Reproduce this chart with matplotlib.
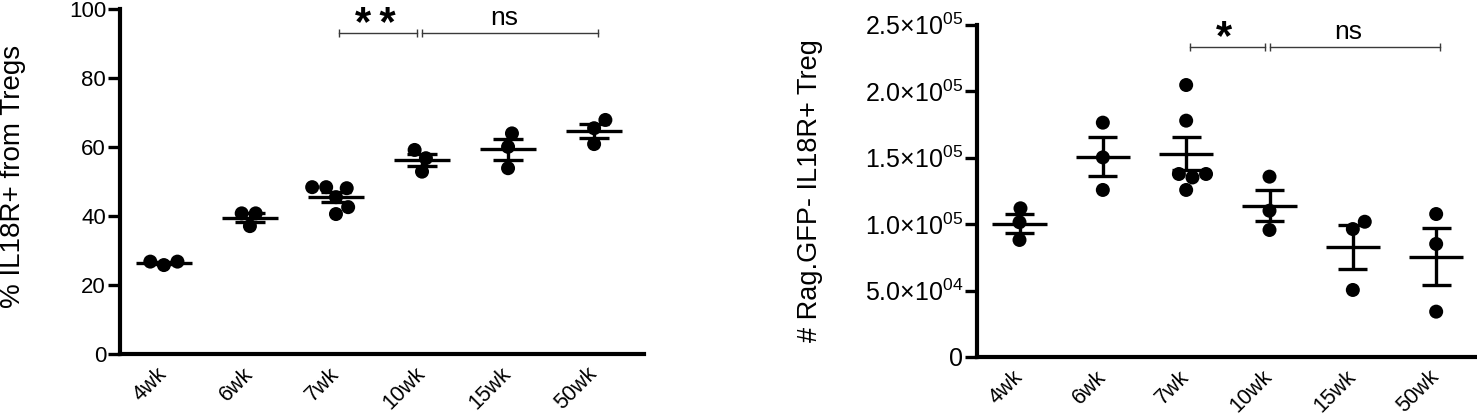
import numpy as np
import matplotlib
matplotlib.use('Agg')
import matplotlib.pyplot as plt

plt.rcParams['font.family'] = ['Liberation Sans', 'DejaVu Sans']
plt.rcParams['mathtext.fontset'] = 'custom'
plt.rcParams['mathtext.rm'] = 'Liberation Sans'

# ---------------- data ----------------
categories = ['4wk', '6wk', '7wk', '10wk', '15wk', '50wk']

# % IL18R+ from Tregs
pct_4wk = [26.8, 25.8, 26.8]
pct_6wk = [40.8, 37.1, 40.8]
pct_7wk = [48.4, 45.5, 48.1, 40.6, 48.4, 42.6]
pct_10wk = [59.2, 56.8, 52.9]
pct_15wk = [64.0, 60.1, 53.9]
pct_50wk = [67.9, 65.5, 60.9]

# # Rag.GFP- IL18R+ Treg (cells)
cnt_4wk = [111800, 101300, 88000]
cnt_6wk = [176200, 150100, 125600]
cnt_7wk = [204500, 177700, 137600, 137600, 135000, 125600]
cnt_10wk = [135600, 110000, 95500]
cnt_15wk = [101700, 96200, 50400]
cnt_50wk = [107500, 85000, 34100]

left_ticks = [0, 20, 40, 60, 80, 100]
right_ticks = [0, 50000, 100000, 150000, 200000, 250000]
right_tick_labels = ['0',
                     '5.0×10$^{\\mathregular{04}}$',
                     '1.0×10$^{\\mathregular{05}}$',
                     '1.5×10$^{\\mathregular{05}}$',
                     '2.0×10$^{\\mathregular{05}}$',
                     '2.5×10$^{\\mathregular{05}}$']

left_groups = [pct_4wk, pct_6wk, pct_7wk, pct_10wk, pct_15wk, pct_50wk]
right_groups = [cnt_4wk, cnt_6wk, cnt_7wk, cnt_10wk, cnt_15wk, cnt_50wk]

left_ylabel = '% IL18R+ from Tregs'
right_ylabel = '# Rag.GFP- IL18R+ Treg'

# significance annotations: (start category, end category, text)
left_sig = [(2, 3, '*\u2009*'), (3, 5, 'ns')]
right_sig = [(2, 3, '*'), (3, 5, 'ns')]

# ---------------- figure ----------------
W, H = 1477, 420
fig = plt.figure(figsize=(W / 100, H / 100), dpi=100)
axL = fig.add_axes([120 / W, 1 - 354 / H, (644 - 120) / W, (354 - 9.3) / H])
axR = fig.add_axes([977 / W, 1 - 357 / H, (1477 - 977) / W, (357 - 24.5) / H])

DOT_PX = 14.0


def swarm_offsets(ax, xc, vals, diam_px):
    pts = ax.transData.transform(np.column_stack([np.full(len(vals), float(xc)), vals]))
    ypx = pts[:, 1]
    px_per_x = ax.transData.transform([[1, 0]])[0, 0] - ax.transData.transform([[0, 0]])[0, 0]
    order = np.argsort(ypx, kind='stable')
    placed = []
    offs = np.zeros(len(vals))
    for i in order:
        cands = [0.0]
        for xj, yj in placed:
            dy = ypx[i] - yj
            if abs(dy) < diam_px:
                dx = np.sqrt(diam_px ** 2 - dy ** 2)
                cands += [xj + dx, xj - dx]
        ok = [c for c in cands
              if all((c - xj) ** 2 + (ypx[i] - yj) ** 2 >= diam_px ** 2 - 1e-6 for xj, yj in placed)]
        best = min(ok, key=lambda c: (abs(c), -c))
        placed.append((best, ypx[i]))
        offs[i] = best / px_per_x
    return offs


def draw_panel(ax, groups, ylim, xlim, ticks, ticklabels, tick_fs, ylabel, label_fs,
               label_xy, sig, sig_y):
    ax.set_xlim(*xlim)
    ax.set_ylim(*ylim)
    x = np.arange(len(categories))
    for xi, vals in zip(x, groups):
        vals = np.asarray(vals, dtype=float)
        offs = swarm_offsets(ax, xi, vals, DOT_PX)
        ax.scatter(xi + offs, vals, s=(DOT_PX * 0.72) ** 2, color='black',
                   edgecolors='none', zorder=3, clip_on=False)
        m = vals.mean()
        sem = vals.std(ddof=1) / np.sqrt(len(vals))
        ax.plot([xi - 0.325, xi + 0.325], [m, m], color='black', lw=2.4,
                zorder=4, solid_capstyle='butt')
        ax.plot([xi, xi], [m - sem, m + sem], color='black', lw=2.4, zorder=4,
                solid_capstyle='butt')
        for yy in (m - sem, m + sem):
            ax.plot([xi - 0.175, xi + 0.175], [yy, yy], color='black', lw=2.4,
                    zorder=4, solid_capstyle='butt')

    for s in ('top', 'right'):
        ax.spines[s].set_visible(False)
    for s in ('left', 'bottom'):
        ax.spines[s].set_linewidth(3.0)
    ax.set_xticks(x)
    ax.set_xticklabels(categories, rotation=45, ha='right', va='center',
                       rotation_mode='anchor', fontsize=15.5)
    ax.tick_params(axis='x', length=0, pad=12)
    ax.set_yticks(ticks)
    ax.set_yticklabels(ticklabels, fontsize=tick_fs)
    ax.tick_params(axis='y', direction='out', length=9, width=2.4, pad=1)
    ax.set_ylabel(ylabel, fontsize=label_fs)
    ax.yaxis.set_label_coords(*label_xy)

    # significance brackets
    for a, b, txt in sig:
        x0 = a + (0.04 if a == 2 else 0.0)
        x1 = b + (-0.06 if b == 3 else 0.04)
        ax.plot([x0, x1], [sig_y, sig_y], color='#3a3a3a', lw=1.0, clip_on=False)
        ax.plot([x0, x1], [sig_y, sig_y], color='#3a3a3a', lw=0, marker='|',
                markersize=6, markeredgewidth=1.0, clip_on=False)
        if txt == 'ns':
            ax.annotate(txt, xy=((x0 + x1) / 2 - 0.07, sig_y), xytext=(0, 6),
                        textcoords='offset points', ha='center', va='baseline',
                        fontsize=19)
        else:
            ax.annotate(txt, xy=((x0 + x1) / 2 - 0.03, sig_y), xytext=(0, -1.5),
                        textcoords='offset points', ha='center', va='baseline',
                        fontsize=30, fontweight='bold')


draw_panel(axL, left_groups, (0, 100), (-0.51, 5.58), left_ticks,
           [str(t) for t in left_ticks], 16, left_ylabel, 20, (-0.18, 0.515),
           left_sig, 93.0)
draw_panel(axR, right_groups, (0, 250000), (-0.51, 5.49), right_ticks,
           right_tick_labels, 18, right_ylabel, 19.5, (-0.308, 0.502),
           right_sig, 233000)

fig.savefig('out.png', dpi=100)
